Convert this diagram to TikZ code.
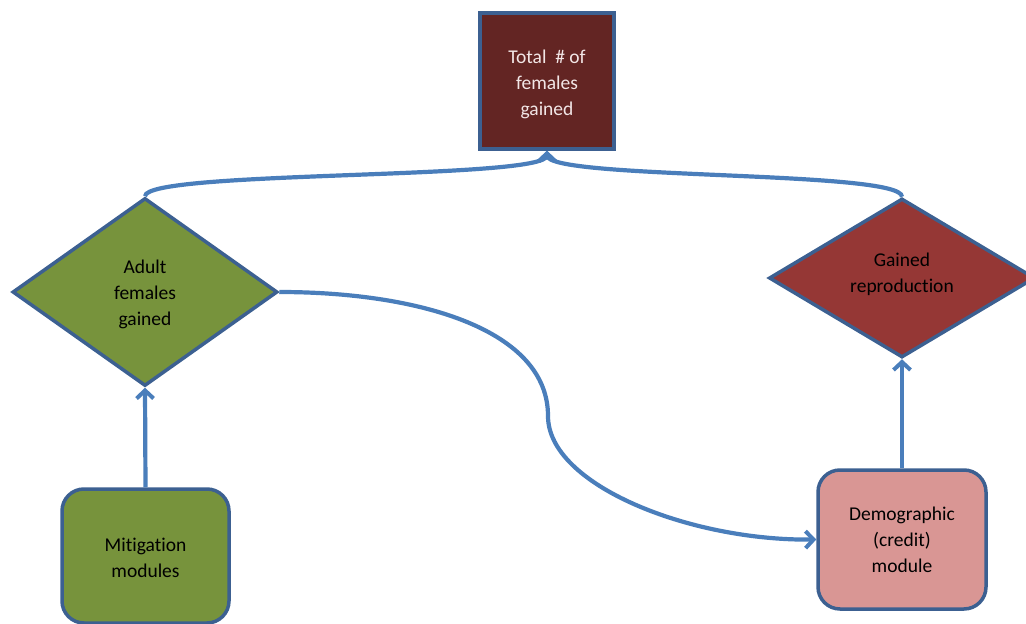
\documentclass[tikz,border=0pt]{standalone}
\usepackage{fontspec}
\setmainfont[Ligatures=NoCommon]{Carlito}
\usetikzlibrary{shapes.geometric,arrows.meta}
\definecolor{edgeblue}{HTML}{3C6091}
\definecolor{linkblue}{HTML}{4A7EBB}
\definecolor{maroon}{HTML}{632523}
\definecolor{olive}{HTML}{77933C}
\definecolor{brick}{HTML}{953735}
\definecolor{rose}{HTML}{D99694}
\definecolor{paletext}{HTML}{F2E6E6}
% shift a centred label vertically without changing its box size
\newcommand{\nudge}[2]{\raisebox{#1}[\height][\depth]{\begin{tabular}{@{}c@{}}#2\end{tabular}}}
\tikzset{
  lbl/.style={font=\fontsize{19.5}{26}\selectfont, align=center, text=black},
  boxnode/.style={lbl, draw=edgeblue, line width=3.5pt, inner sep=0pt},
  rbox/.style={boxnode, rounded corners=22pt},
  dia/.style={lbl, diamond, draw=edgeblue, line width=3.5pt, inner sep=0pt},
  link/.style={draw=linkblue, line width=4.2pt},
  tip/.style={-{Straight Barb[length=8pt,width=17pt,line width=4pt]}}
}
\begin{document}
\begin{tikzpicture}[x=1pt,y=-1pt]
\useasboundingbox (0,0) rectangle (1026,624);
\clip (0,0) rectangle (1026,624);

% outcome box
\node[boxnode, fill=maroon, text=paletext, minimum width=134pt, minimum height=136pt]
  (total) at (547,81) {\nudge{-3pt}{Total\ \ \# of\\females\\gained}};

% decision diamonds
\node[dia, fill=olive, minimum width=265pt, minimum height=188pt]
  (adult) at (145,292) {\nudge{-2pt}{Adult\\females\\gained}};
\node[dia, fill=brick, minimum width=266pt, minimum height=159pt]
  (repro) at (902,278) {\nudge{4pt}{Gained\\reproduction}};

% module boxes
\node[rbox, fill=olive, minimum width=167pt, minimum height=134pt]
  (mitig) at (145.5,556) {\nudge{-3pt}{Mitigation\\modules}};
\node[rbox, fill=rose, minimum width=168pt, minimum height=139pt]
  (demo) at (902,539.5) {\nudge{-2pt}{Demographic\\(credit)\\module}};

% connectors
\draw[link, tip] (mitig.north) -- (adult.south);
\draw[link, tip] (demo.north) -- (repro.south);
\draw[link, tip] (adult.north) .. controls (145,170) and (547,180) .. (total.south);
\draw[link, tip] (repro.north) .. controls (902,170) and (547,180) .. (total.south);
\coordinate (bend) at (548,416);
\draw[link] (adult.east) .. controls (420,292) and (548,330) .. (bend);
\draw[link, tip] (bend) .. controls (548,485) and (690,541) .. (demo.west);
\end{tikzpicture}
\end{document}
